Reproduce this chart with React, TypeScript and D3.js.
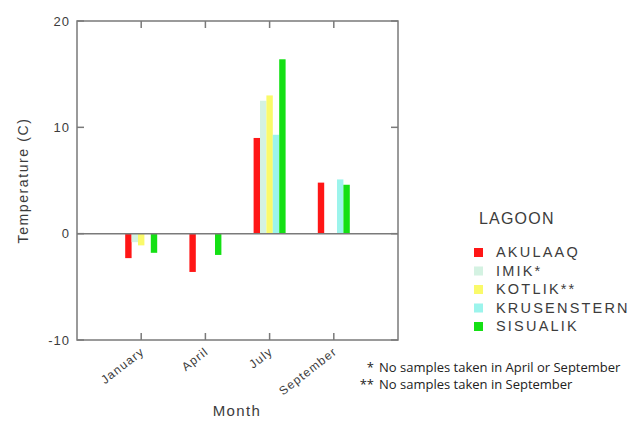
import * as d3 from 'd3';

const months = ['January', 'April', 'July', 'September'];
const lagoons = ['AKULAAQ', 'IMIK*', 'KOTLIK**', 'KRUSENSTERN', 'SISUALIK'];
const lagoonColors = ['#ff1616', '#d4f2e2', '#fafa6a', '#9cf4ec', '#14e014'];

// temperature (C) per lagoon, one value per month; null = no sample
const akulaaq = [-2.3, -3.6, 9.0, 4.8];
const imik = [-0.8, null, 12.5, null];
const kotlik = [-1.1, null, 13.0, null];
const krusenstern = [null, null, 9.3, 5.1];
const sisualik = [-1.8, -2.0, 16.4, 4.6];

const yTicks = [-10, 0, 10, 20];
const footnotes = [
    { mark: '*', text: 'No samples taken in April or September' },
    { mark: '**', text: 'No samples taken in September' },
];

const W = 635;
const H = 424;
const plot = { left: 77, right: 398, top: 21, bottom: 340 };
const textColor = '#3c3c3c';
const frameColor = '#7a7a7a';
const font = '"Liberation Sans", Arial, sans-serif';

export default function App() {
    const series = [akulaaq, imik, kotlik, krusenstern, sisualik];

    const x = d3.scaleBand<string>()
        .domain(months)
        .range([plot.left, plot.right])
        .paddingInner(0)
        .paddingOuter(0.5);

    const xInner = d3.scaleBand<string>()
        .domain(lagoons)
        .range([-16, 16])
        .padding(0);

    const y = d3.scaleLinear()
        .domain([-10, 20])
        .range([plot.bottom, plot.top]);

    const tickLen = 7;

    return (
        <div style={{ position: 'absolute', left: 0, top: 0 }}>
            <svg width={W} height={H} style={{ display: 'block', background: '#fff' }}>
                {/* bars */}
                {series.map((vals, si) =>
                    vals.map((v, mi) => {
                        if (v === null) return null;
                        const cx = x(months[mi])! + x.bandwidth() / 2;
                        const bx = cx + xInner(lagoons[si])!;
                        return (
                            <rect
                                key={`${si}-${mi}`}
                                x={bx}
                                y={y(Math.max(v, 0))}
                                width={xInner.bandwidth()}
                                height={Math.abs(y(v) - y(0))}
                                fill={lagoonColors[si]}
                            />
                        );
                    })
                )}

                {/* zero line */}
                <line x1={plot.left} x2={plot.right} y1={y(0)} y2={y(0)} stroke={frameColor} strokeWidth={1.5} />

                {/* frame */}
                <rect
                    x={plot.left}
                    y={plot.top}
                    width={plot.right - plot.left}
                    height={plot.bottom - plot.top}
                    fill="none"
                    stroke={frameColor}
                    strokeWidth={1.5}
                />

                {/* x ticks, top and bottom, inward */}
                {months.map(m => {
                    const cx = x(m)! + x.bandwidth() / 2;
                    return (
                        <g key={m}>
                            <line x1={cx} x2={cx} y1={plot.top} y2={plot.top + tickLen} stroke={frameColor} strokeWidth={1.5} />
                            <line x1={cx} x2={cx} y1={plot.bottom} y2={plot.bottom - tickLen} stroke={frameColor} strokeWidth={1.5} />
                            <text
                                transform={`translate(${cx + 4},${plot.bottom + 13}) rotate(-38)`}
                                textAnchor="end"
                                fontFamily={font}
                                fontSize={12}
                                letterSpacing={1.2}
                                fill={textColor}
                            >
                                {m}
                            </text>
                        </g>
                    );
                })}

                {/* y ticks, left and right, inward */}
                {yTicks.map(t => (
                    <g key={t}>
                        <line x1={plot.left} x2={plot.left + tickLen} y1={y(t)} y2={y(t)} stroke={frameColor} strokeWidth={1.5} />
                        <line x1={plot.right} x2={plot.right - tickLen} y1={y(t)} y2={y(t)} stroke={frameColor} strokeWidth={1.5} />
                        <text
                            x={plot.left - 7}
                            y={y(t)}
                            dy="0.35em"
                            textAnchor="end"
                            fontFamily={font}
                            fontSize={13}
                            letterSpacing={1}
                            fill={textColor}
                        >
                            {t}
                        </text>
                    </g>
                ))}

                {/* axis titles */}
                <text
                    transform={`translate(28,${(plot.top + plot.bottom) / 2}) rotate(-90)`}
                    textAnchor="middle"
                    fontFamily={font}
                    fontSize={14}
                    letterSpacing={1.6}
                    fill={textColor}
                >
                    Temperature (C)
                </text>
                <text
                    x={237}
                    y={416}
                    textAnchor="middle"
                    fontFamily={font}
                    fontSize={15}
                    letterSpacing={1.4}
                    fill={textColor}
                >
                    Month
                </text>

                {/* legend */}
                <text x={479} y={224} fontFamily={font} fontSize={16} letterSpacing={1.2} fill={textColor}>
                    LAGOON
                </text>
                {lagoons.map((name, i) => {
                    const ly = 252 + i * 18.5;
                    return (
                        <g key={name}>
                            <rect x={474} y={ly - 4} width={9} height={9} fill={lagoonColors[i]} />
                            <text
                                x={496}
                                y={ly}
                                dy="0.35em"
                                fontFamily={font}
                                fontSize={14.5}
                                letterSpacing={2.2}
                                fill={textColor}
                            >
                                {name}
                            </text>
                        </g>
                    );
                })}

                {/* footnotes */}
                {footnotes.map((f, i) => (
                    <g key={f.mark} fontFamily='"Open Sans", sans-serif' fontSize={13} fill="#222">
                        <text x={374} y={372 + i * 17} textAnchor="end">{f.mark}</text>
                        <text x={379} y={372 + i * 17}>{f.text}</text>
                    </g>
                ))}
            </svg>
        </div>
    );
}
